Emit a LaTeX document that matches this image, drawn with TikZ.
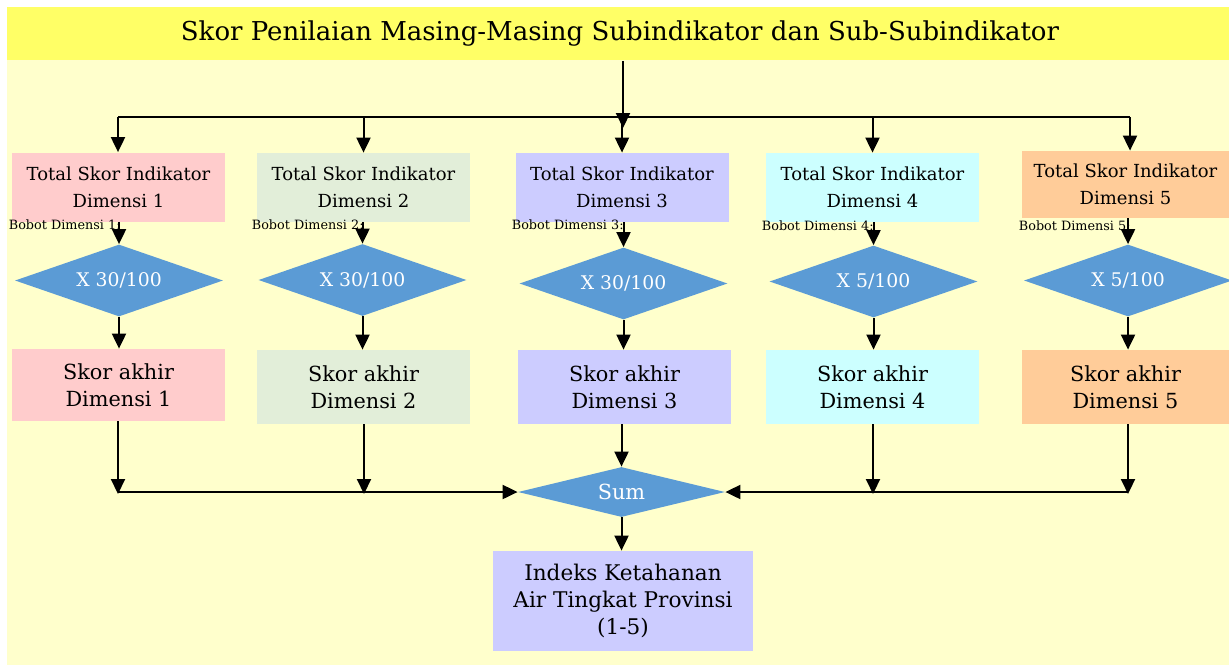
\documentclass[tikz,border=0pt]{standalone}
\usepackage{fontspec}
\setmainfont{DejaVu Serif}
\usetikzlibrary{shapes.geometric,arrows.meta}
\definecolor{hdr}{HTML}{FFFF66}
\definecolor{bg}{HTML}{FFFFCC}
\definecolor{dimA}{HTML}{FFCCCC}
\definecolor{dimB}{HTML}{E2EED9}
\definecolor{dimC}{HTML}{CCCCFF}
\definecolor{dimD}{HTML}{CCFFFF}
\definecolor{dimE}{HTML}{FFCC99}
\definecolor{dia}{HTML}{5B9BD5}
\tikzset{
  conn/.style={line width=1pt,draw=black},
  arr/.style={conn,-{Triangle[length=7.5pt,width=7pt]}},
  topbox/.style={rectangle,inner sep=0pt,minimum width=106.5pt,minimum height=34.5pt,align=center,font=\fontsize{9}{13.5}\selectfont},
  endbox/.style={rectangle,inner sep=0pt,minimum width=106.5pt,minimum height=37pt,align=center,font=\fontsize{10.4}{13.5}\selectfont},
  weight/.style={diamond,shape aspect=2.9,fill=dia,inner sep=0pt,minimum width=104pt,minimum height=36pt,text=white,font=\fontsize{9.4}{10}\selectfont},
  bobot/.style={anchor=east,inner sep=0pt,font=\fontsize{6.4}{7}\selectfont}
}
\begin{document}
\begin{tikzpicture}[x=0.5pt,y=-0.5pt]
\useasboundingbox (0,0) rectangle (1229,665);
% backgrounds
\fill[bg] (7,60) rectangle (1229,665);
\node[rectangle,fill=hdr,inner sep=0pt,minimum width=611pt,minimum height=26.5pt,anchor=north west] (h) at (7,7) {};
\node[inner sep=0pt,font=\fontsize{13}{15}\selectfont] (htxt) at (620,34) {Skor Penilaian Masing-Masing Subindikator dan Sub-Subindikator};

% top boxes
\node[topbox,fill=dimA] (t1) at (118.5,187) {Total Skor Indikator\\Dimensi 1};
\node[topbox,fill=dimB] (t2) at (363.5,187.5) {Total Skor Indikator\\Dimensi 2};
\node[topbox,fill=dimC] (t3) at (622,187.5) {Total Skor Indikator\\Dimensi 3};
\node[topbox,fill=dimD] (t4) at (872.5,187.5) {Total Skor Indikator\\Dimensi 4};
\node[topbox,fill=dimE,minimum width=103.5pt,minimum height=33.5pt] (t5) at (1125.5,184.5) {Total Skor Indikator\\Dimensi 5};

% weighting diamonds
\node[weight] (w1) at (119,280.5) {X 30/100};
\node[weight] (w2) at (362.5,280) {X 30/100};
\node[weight] (w3) at (623.5,283.5) {X 30/100};
\node[weight] (w4) at (873.5,281.5) {X 5/100};
\node[weight] (w5) at (1128,280.5) {X 5/100};

% final scores per dimension
\node[endbox,fill=dimA,minimum height=36pt] (s1) at (118.5,385) {Skor akhir\\Dimensi 1};
\node[endbox,fill=dimB] (s2) at (363.5,387) {Skor akhir\\Dimensi 2};
\node[endbox,fill=dimC] (s3) at (624.5,387) {Skor akhir\\Dimensi 3};
\node[endbox,fill=dimD] (s4) at (872.5,387) {Skor akhir\\Dimensi 4};
\node[endbox,fill=dimE,minimum width=103.5pt] (s5) at (1125.5,387) {Skor akhir\\Dimensi 5};

% sum and index
\node[diamond,shape aspect=4,fill=dia,inner sep=0pt,minimum width=103.5pt,minimum height=25pt,text=white,
      font=\fontsize{10.4}{11}\selectfont] (sum) at (621.5,492) {Sum};
\node[rectangle,fill=dimC,inner sep=0pt,minimum width=130pt,minimum height=50pt,align=center,
      font=\fontsize{10.8}{13.3}\selectfont] (idx) at (623,601) {Indeks Ketahanan\\Air Tingkat Provinsi\\(1-5)};

% weight labels
\node[bobot] (b1) at (121,225) {Bobot Dimensi 1:};
\node[bobot] (b2) at (364,225) {Bobot Dimensi 2:};
\node[bobot] (b3) at (624,225) {Bobot Dimensi 3:};
\node[bobot] (b4) at (874,226) {Bobot Dimensi 4:};
\node[bobot] (b5) at (1131,226) {Bobot Dimensi 5:};

% distribution bus
\coordinate (hub) at (623,128);
\coordinate (busL) at (118,117);
\coordinate (busR) at (1130,117);
\draw[conn] (busL) -- (busR);
\draw[arr] (h.south -| hub) -- (hub);
\draw[arr] (busL) -- (busL |- t1.north);
\draw[arr] (t2.north |- busL) -- (t2.north);
\draw[arr] (t3.north |- busL) -- (t3.north);
\draw[arr] (t4.north |- busL) -- (t4.north);
\draw[arr] (busR) -- (busR |- t5.north);

% weighting steps
\foreach \i in {1,...,5}{
  \draw[arr] (w\i.north |- t\i.south) -- (w\i.north);
  \draw[arr] (w\i.south) -- (w\i.south |- s\i.north);
}

% collection bus
\coordinate (c1) at (118,494);
\coordinate (c2) at (364,494);
\coordinate (c4) at (873,494);
\coordinate (c5) at (1128,494);
\draw[arr] (s1.south -| c1) -- (c1);
\draw[arr] (s2.south -| c2) -- (c2);
\draw[arr] (s4.south -| c4) -- (c4);
\draw[arr] (s5.south -| c5) -- (c5);
\draw[arr] (sum.west -| c1) -- (sum.west);
\draw[arr] (sum.east -| c5) -- (sum.east);
\draw[arr] (sum.north |- s3.south) -- (sum.north);
\draw[arr] (sum.south) -- (sum.south |- idx.north);
\end{tikzpicture}
\end{document}
